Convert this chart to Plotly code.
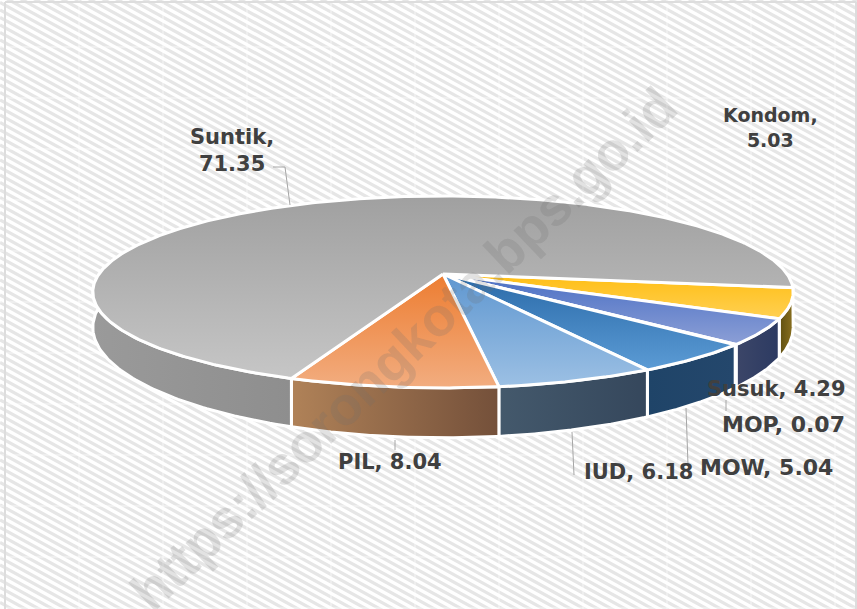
import numpy as np
import plotly.graph_objects as go

# Data, in clockwise drawing order starting from the right-hand side
categories = ["Kondom", "Susuk", "MOP", "MOW", "IUD", "PIL", "Suntik"]
values = [5.03, 4.29, 0.07, 5.04, 6.18, 8.04, 71.35]

# Styles
top_colors = {
    "Kondom": ("#ffbe14", "#ffd052"), "Susuk": ("#4a6fc4", "#8c9fd6"),
    "MOP": ("#8a8a8a", "#b0b0b0"), "MOW": ("#2a6aa8", "#5b9bd5"),
    "IUD": ("#5f97d0", "#9cc0e4"), "PIL": ("#ed7d31", "#f2ad80"),
    "Suntik": ("#a0a0a0", "#c6c6c6"),
}
side_colors = {
    "Kondom": ("#5f4f10", "#8a7020"), "Susuk": ("#3c4668", "#2c3a62"),
    "MOP": ("#555555", "#555555"), "MOW": ("#1f4468", "#24476c"),
    "IUD": ("#44596c", "#35475c"), "PIL": ("#b08258", "#74503a"),
    "Suntik": ("#9a9a9a", "#8e8e8e"),
}
label_text = {
    "Suntik": "Suntik,<br>71.35", "Kondom": "Kondom,<br>5.03",
    "Susuk": "Susuk, 4.29", "MOP": "MOP, 0.07", "MOW": "MOW, 5.04",
    "IUD": "IUD, 6.18", "PIL": "PIL, 8.04",
}
label_pos = {
    "Suntik": (232, 150), "Kondom": (770, 127), "Susuk": (776, 389),
    "MOP": (783, 424), "MOW": (766, 467), "IUD": (638, 472), "PIL": (390, 462),
}
label_size = {"Suntik": 21, "Kondom": 19, "Susuk": 21, "MOP": 22, "MOW": 22, "IUD": 21, "PIL": 21}
leaders = [
    ((273, 285, 290), (167, 167, 205)),
    ((395, 395), (440, 450)),
    ((572, 574), (432, 475)),
    ((686, 688), (408, 465)),
    ((726, 726), (400, 411)),
]

# Projection of the tilted pie onto the page
CX, CY, A, B, K, DEPTH = 443, 274, 344, 92.6, 0.187, 33
START = 8.2


def rim(theta_deg, bottom=False):
    t = np.radians(theta_deg)
    w = 1 - K * np.sin(t)
    x = CX + A * np.cos(t) / w
    y = CY + B * np.sin(t) / w
    if bottom:
        y = y + DEPTH / w ** 2
    return x, y


fig = go.Figure()

# Hatched background
sx, sy = [], []
for c in np.arange(-500, 1100, 7.5):
    sx += [0, 857, None]
    sy += [c, c + 857 * 0.55, None]
fig.add_trace(go.Scatter(x=sx, y=sy, mode="lines", line=dict(color="#e6e6e6", width=3.2), hoverinfo="skip"))
gx, gy = [], []
for vx in np.arange(79, 857, 84):
    gx += [vx, vx, None]
    gy += [0, 609, None]
for hy in np.arange(47, 609, 51):
    gx += [0, 857, None]
    gy += [hy, hy, None]
fig.add_trace(go.Scatter(x=gx, y=gy, mode="lines", line=dict(color="rgba(255,255,255,0.65)", width=1), hoverinfo="skip"))

# Slice angle ranges from the values
edges = START + np.concatenate([[0], np.cumsum(values)]) * 3.6

# Sides
for i, cat in enumerate(categories):
    a0, a1 = edges[i], min(edges[i + 1], 186)
    th = np.linspace(a0, a1, 90)
    xt, yt = rim(th)
    xb, yb = rim(th[::-1], bottom=True)
    c0, c1 = side_colors[cat]
    fig.add_trace(go.Scatter(
        x=np.r_[xt, xb, xt[0]], y=np.r_[yt, yb, yt[0]], mode="lines", fill="toself",
        fillgradient=dict(type="horizontal", colorscale=[[0, c0], [1, c1]]),
        line=dict(color="white", width=3), name=cat, hoverinfo="name",
    ))

# Top faces
for i, cat in enumerate(categories):
    th = np.linspace(edges[i], edges[i + 1], max(3, int((edges[i + 1] - edges[i]) * 2)))
    xt, yt = rim(th)
    c0, c1 = top_colors[cat]
    fig.add_trace(go.Scatter(
        x=np.r_[CX, xt, CX], y=np.r_[CY, yt, CY], mode="lines", fill="toself",
        fillgradient=dict(type="vertical", colorscale=[[0, c1], [1, c0]]),
        line=dict(color="white", width=3), name=cat, hoverinfo="name",
    ))

# Leader lines
for lx, ly in leaders:
    fig.add_trace(go.Scatter(x=list(lx), y=list(ly), mode="lines", line=dict(color="#a6a6a6", width=1), hoverinfo="skip"))

annotations = [
    dict(x=label_pos[c][0], y=label_pos[c][1], text="<b>%s</b>" % label_text[c], showarrow=False,
         font=dict(family="DejaVu Sans", size=label_size[c], color="#404040"), xanchor="center", yanchor="middle")
    for c in categories
]
annotations.append(dict(
    x=403, y=349, text="<b>https://sorongkota.bps.go.id</b>", textangle=-43.6, showarrow=False,
    font=dict(family="Liberation Sans", size=54, color="rgba(110,110,110,0.2)"),
    xanchor="center", yanchor="middle",
))

fig.update_layout(
    width=857, height=609, autosize=False, margin=dict(l=0, r=0, t=0, b=0),
    paper_bgcolor="white", plot_bgcolor="white", showlegend=False,
    xaxis=dict(range=[0, 857], visible=False, fixedrange=True),
    yaxis=dict(range=[609, 0], visible=False, fixedrange=True),
    annotations=annotations,
    shapes=[
        dict(type="line", xref="x", yref="y", x0=5, x1=5, y0=2, y1=609, line=dict(color="#dddddd", width=2)),
        dict(type="line", xref="x", yref="y", x0=5, x1=856, y0=2, y1=2, line=dict(color="#dddddd", width=2)),
        dict(type="line", xref="x", yref="y", x0=856, x1=856, y0=2, y1=609, line=dict(color="#dddddd", width=2)),
    ],
)
fig.write_html("out.html", config={"displayModeBar": False},
               post_script="document.body.style.margin='0';document.documentElement.style.overflow='hidden';")
